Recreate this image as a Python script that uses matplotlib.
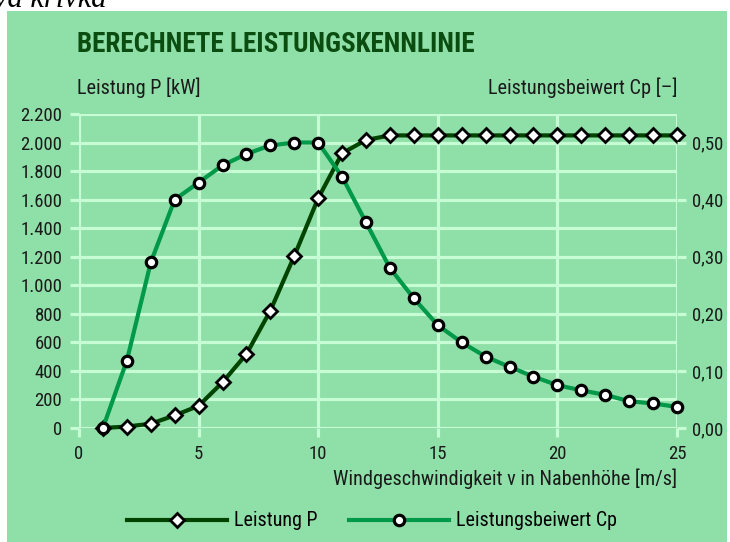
import matplotlib
matplotlib.use("Agg")
import matplotlib.pyplot as plt
from matplotlib.patches import Rectangle

plt.rcParams['font.family'] = ['Roboto Condensed', 'Archivo Narrow', 'Liberation Sans', 'DejaVu Sans']

# ---- data ----
wind = [1, 2, 3, 4, 5, 6, 7, 8, 9, 10, 11, 12, 13, 14, 15, 16, 17, 18, 19, 20, 21, 22, 23, 24, 25]
power_kw = [0, 10, 30, 88, 155, 320, 518, 822, 1205, 1610, 1925, 2018, 2050, 2050, 2050, 2050,
            2050, 2050, 2050, 2050, 2050, 2050, 2050, 2050, 2050]
cp = [0.00, 0.118, 0.29, 0.40, 0.43, 0.46, 0.48, 0.495, 0.50, 0.50, 0.44, 0.36, 0.28, 0.227,
      0.18, 0.15, 0.125, 0.107, 0.09, 0.075, 0.066, 0.058, 0.047, 0.043, 0.037]
x_ticks = [0, 5, 10, 15, 20, 25]
p_ticks = [0, 200, 400, 600, 800, 1000, 1200, 1400, 1600, 1800, 2000, 2200]
p_tick_labels = ['0', '200', '400', '600', '800', '1.000', '1.200', '1.400', '1.600', '1.800', '2.000', '2.200']
cp_ticks = [0.0, 0.1, 0.2, 0.3, 0.4, 0.5]
cp_tick_labels = ['0,00', '0,10', '0,20', '0,30', '0,40', '0,50']

title = 'BERECHNETE LEISTUNGSKENNLINIE'
ylabel_left = 'Leistung P [kW]'
ylabel_right = 'Leistungsbeiwert Cp [–]'
xlabel = 'Windgeschwindigkeit v in Nabenhöhe [m/s]'
name_p = 'Leistung P'
name_cp = 'Leistungsbeiwert Cp'

# ---- style ----
BG = '#8fdfa8'
GRID = '#c6fdd5'
DARK = '#004400'
MID = '#00994a'
TITLE_C = '#0b4d10'
TXT = '#1a1a1a'

W, H = 730, 542
fig = plt.figure(figsize=(W / 100, H / 100), dpi=100)
fig.patch.set_facecolor('white')
fig.add_artist(Rectangle((7 / W, 0), 720 / W, 531 / H, transform=fig.transFigure,
                         facecolor=BG, edgecolor='none', zorder=-10))

fig.text(-6 / W, 1 - 7 / H, 'va krivka', family='Liberation Serif', style='italic',
         fontsize=22, va='baseline', ha='left', color='black')

ax = fig.add_axes([79 / W, 114 / H, 598 / W, 314 / H])
ax.set_facecolor('none')
ax.set_xlim(0, 25)
ax.set_ylim(0, 2200)
ax.set_xticks(x_ticks)
ax.set_yticks(p_ticks)
ax.set_yticklabels(p_tick_labels)
ax.set_axisbelow(True)
ax.grid(True, color=GRID, lw=2.3, zorder=0)
for s in ax.spines.values():
    s.set_visible(False)
ax.tick_params(axis='both', color=GRID, width=2.3, length=6.5, labelsize=13.5,
               labelcolor=TXT, pad=5.5)

ax2 = ax.twinx()
ax2.set_ylim(0, 0.55)
ax2.set_yticks(cp_ticks)
ax2.set_yticklabels(cp_tick_labels)
for s in ax2.spines.values():
    s.set_visible(False)
ax2.tick_params(axis='y', color=GRID, width=2.3, length=6.5, labelsize=13.5,
                labelcolor=TXT, pad=4.5)

l1, = ax.plot(wind, power_kw, color=DARK, lw=3, marker='D', ms=7, mfc='white',
              mec='black', mew=2, clip_on=False, zorder=3, label=name_p)
l2, = ax2.plot(wind, cp, color=MID, lw=3, marker='o', ms=7.5, mfc='white',
               mec='black', mew=2.3, clip_on=False, zorder=3, label=name_cp)

fig.text(77 / W, 1 - 45 / H, title, fontsize=19.5, fontweight='bold', color=TITLE_C,
         ha='left', va='center')
fig.text(77 / W, 1 - 88 / H, ylabel_left, fontsize=14.6, color=TXT, ha='left', va='center')
fig.text(678 / W, 1 - 88 / H, ylabel_right, fontsize=14.6, color=TXT, ha='right', va='center')
fig.text(677 / W, 1 - 479 / H, xlabel, fontsize=14.6, color=TXT, ha='right', va='center')

fig.legend(handles=[l1, l2], loc='center', bbox_to_anchor=(372 / W, 1 - 521 / H),
           bbox_transform=fig.transFigure, ncol=2, frameon=False, fontsize=14.4,
           handlelength=5.0, handletextpad=0.35, columnspacing=1.6)

fig.savefig('out.png', dpi=100)
